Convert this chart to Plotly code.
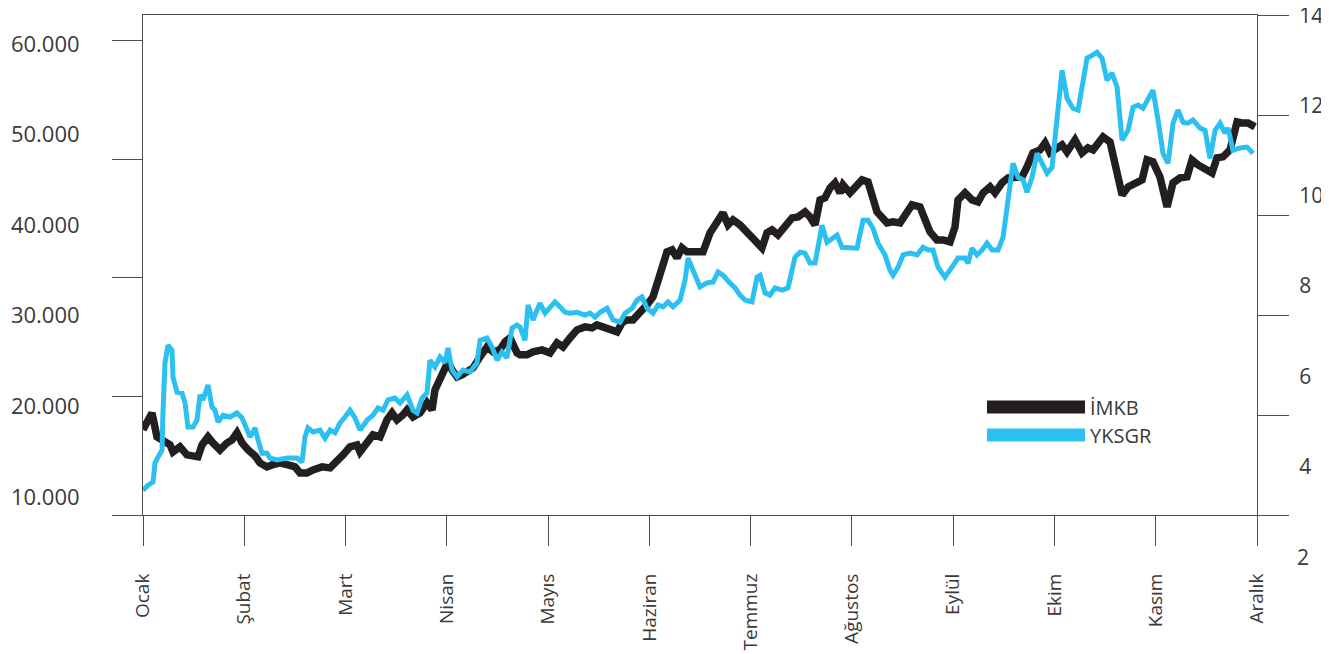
import plotly.graph_objects as go

months = ["Ocak", "Şubat", "Mart", "Nisan", "Mayıs", "Haziran",
          "Temmuz", "Ağustos", "Eylül", "Ekim", "Kasım", "Aralık"]

left_ticks = [10000, 20000, 30000, 40000, 50000, 60000]
left_labels = ["10.000", "20.000", "30.000", "40.000", "50.000", "60.000"]
right_ticks = [4, 6, 8, 10, 12, 14]

# IMKB index (left axis), x in months from start of year
imkb_month = [
    0.000, 0.089, 0.138, 0.197, 0.267, 0.296, 0.365, 0.434, 0.494, 0.543,
    0.583, 0.642, 0.691, 0.760, 0.829, 0.879, 0.928, 0.978, 1.037, 1.106,
    1.155, 1.224, 1.274, 1.353, 1.432, 1.501, 1.550, 1.619, 1.679, 1.768,
    1.847, 1.916, 1.975, 2.044, 2.113, 2.143, 2.212, 2.271, 2.340, 2.409,
    2.459, 2.508, 2.567, 2.607, 2.666, 2.735, 2.804, 2.854, 2.883, 2.933,
    2.982, 3.012, 3.051, 3.101, 3.150, 3.199, 3.259, 3.328, 3.397, 3.456,
    3.525, 3.575, 3.624, 3.693, 3.723, 3.792, 3.851, 3.940, 4.019, 4.088,
    4.147, 4.216, 4.286, 4.365, 4.434, 4.483, 4.542, 4.611, 4.681, 4.730,
    4.779, 4.838, 4.908, 4.977, 5.036, 5.086, 5.135, 5.174, 5.224, 5.273,
    5.322, 5.372, 5.431, 5.500, 5.530, 5.599, 5.668, 5.727, 5.777, 5.826,
    5.895, 5.945, 5.994, 6.043, 6.112, 6.162, 6.211, 6.270, 6.340, 6.409,
    6.468, 6.537, 6.586, 6.636, 6.685, 6.734, 6.784, 6.833, 6.883, 6.912,
    6.981, 7.050, 7.100, 7.159, 7.208, 7.248, 7.347, 7.406, 7.475, 7.524,
    7.593, 7.672, 7.722, 7.771, 7.840, 7.900, 7.969, 8.018, 8.048, 8.117,
    8.186, 8.245, 8.295, 8.364, 8.413, 8.482, 8.542, 8.611, 8.680, 8.729,
    8.788, 8.857, 8.907, 8.956, 9.006, 9.075, 9.124, 9.203, 9.272, 9.331,
    9.381, 9.430, 9.480, 9.549, 9.598, 9.668, 9.727, 9.796, 9.865, 9.914,
    9.973, 10.042, 10.112, 10.171, 10.240, 10.309, 10.358, 10.418, 10.487, 10.556,
    10.605, 10.664, 10.734, 10.803, 10.852, 10.911, 10.980,
]
imkb_value = [
    17400, 19270, 16620, 16290, 15740, 14970, 15520, 14640, 14420, 14420,
    15740, 16620, 15960, 15190, 15960, 16290, 17070, 15960, 15190, 14530,
    13750, 13310, 13530, 13750, 13530, 13310, 12650, 12650, 12980, 13310,
    13200, 13860, 14640, 15520, 15740, 14970, 15960, 16840, 16620, 18500,
    19270, 18500, 19050, 19600, 18830, 19270, 20380, 19600, 21810, 22920,
    24350, 24900, 24020, 23250, 23470, 23800, 24240, 25460, 26560, 26010,
    26230, 27110, 27550, 25900, 25680, 25680, 26010, 26230, 25900, 27000,
    26560, 27550, 28440, 28770, 28660, 28990, 28770, 28660, 28220, 29210,
    29540, 29540, 30310, 31200, 32080, 33960, 35280, 37050, 37270, 36390,
    37490, 37050, 37050, 36940, 37050, 39150, 40360, 41350, 40030, 40580,
    40030, 39480, 38920, 38150, 37490, 39150, 39480, 38920, 40030, 40800,
    40910, 41460, 40910, 40030, 42790, 43010, 44110, 44670, 43560, 44450,
    43560, 44450, 45000, 44780, 42790, 41460, 40250, 40360, 40250, 41130,
    42240, 42020, 40580, 39260, 38370, 38370, 38150, 39810, 42790, 43560,
    42790, 42570, 43560, 44220, 43560, 44670, 45220, 45330, 45330, 46430,
    47980, 48310, 49080, 47980, 48310, 48860, 48090, 49410, 47980, 48530,
    48310, 49080, 49740, 49190, 46430, 43340, 44220, 44670, 45000, 47200,
    46980, 45330, 42020, 44670, 45220, 45330, 47200, 46650, 46100, 45770,
    47430, 47540, 48310, 51400, 51290, 51290, 50850,
]

# YKSGR price (right axis)
yksgr_month = [
    0.000, 0.049, 0.099, 0.118, 0.148, 0.188, 0.197, 0.217, 0.247, 0.286,
    0.296, 0.336, 0.385, 0.415, 0.444, 0.494, 0.533, 0.563, 0.592, 0.642,
    0.681, 0.711, 0.741, 0.790, 0.859, 0.928, 0.978, 1.027, 1.057, 1.086,
    1.106, 1.136, 1.175, 1.224, 1.254, 1.323, 1.422, 1.521, 1.570, 1.600,
    1.629, 1.679, 1.748, 1.797, 1.847, 1.896, 1.945, 1.995, 2.044, 2.093,
    2.143, 2.212, 2.271, 2.321, 2.370, 2.419, 2.488, 2.538, 2.607, 2.666,
    2.706, 2.755, 2.804, 2.834, 2.883, 2.933, 2.982, 3.012, 3.051, 3.101,
    3.160, 3.229, 3.298, 3.328, 3.397, 3.446, 3.496, 3.545, 3.594, 3.644,
    3.693, 3.723, 3.772, 3.802, 3.851, 3.891, 3.920, 3.970, 4.019, 4.068,
    4.118, 4.167, 4.216, 4.286, 4.365, 4.414, 4.463, 4.513, 4.582, 4.641,
    4.710, 4.760, 4.829, 4.878, 4.927, 4.977, 5.036, 5.086, 5.135, 5.184,
    5.234, 5.303, 5.352, 5.382, 5.431, 5.480, 5.500, 5.569, 5.629, 5.678,
    5.727, 5.796, 5.846, 5.895, 5.945, 6.014, 6.063, 6.093, 6.142, 6.191,
    6.241, 6.310, 6.369, 6.438, 6.488, 6.537, 6.586, 6.636, 6.705, 6.754,
    6.804, 6.853, 6.902, 6.952, 6.981, 7.050, 7.110, 7.159, 7.208, 7.258,
    7.327, 7.376, 7.406, 7.456, 7.505, 7.574, 7.643, 7.702, 7.752, 7.801,
    7.850, 7.919, 7.988, 8.048, 8.117, 8.147, 8.186, 8.235, 8.285, 8.334,
    8.384, 8.443, 8.492, 8.542, 8.591, 8.640, 8.690, 8.729, 8.779, 8.828,
    8.877, 8.927, 8.976, 9.026, 9.075, 9.124, 9.183, 9.233, 9.272, 9.282,
    9.322, 9.371, 9.420, 9.470, 9.519, 9.568, 9.618, 9.668, 9.727, 9.776,
    9.825, 9.875, 9.924, 9.973, 10.023, 10.072, 10.122, 10.171, 10.220, 10.270,
    10.319, 10.368, 10.437, 10.487, 10.536, 10.586, 10.635, 10.684, 10.714, 10.763,
    10.832, 10.902, 10.961,
]
yksgr_value = [
    3.48, 3.59, 3.66, 4.08, 4.21, 4.37, 5.19, 6.30, 6.69, 6.58,
    5.99, 5.65, 5.63, 5.41, 4.88, 4.88, 5.03, 5.59, 5.48, 5.81,
    5.32, 5.25, 4.99, 5.14, 5.10, 5.19, 5.08, 4.81, 4.66, 4.77,
    4.86, 4.59, 4.30, 4.30, 4.19, 4.15, 4.19, 4.19, 4.10, 4.66,
    4.86, 4.77, 4.81, 4.63, 4.81, 4.75, 4.97, 5.10, 5.25, 5.08,
    4.81, 5.03, 5.14, 5.30, 5.25, 5.48, 5.52, 5.41, 5.59, 5.25,
    5.19, 5.52, 5.63, 6.36, 6.21, 6.43, 6.30, 6.63, 6.14, 5.99,
    6.14, 6.10, 6.30, 6.80, 6.85, 6.65, 6.36, 6.54, 6.41, 7.07,
    7.14, 7.09, 6.80, 7.58, 7.25, 7.47, 7.62, 7.40, 7.54, 7.65,
    7.54, 7.42, 7.40, 7.42, 7.36, 7.40, 7.31, 7.42, 7.51, 7.25,
    7.20, 7.40, 7.51, 7.69, 7.76, 7.51, 7.40, 7.58, 7.54, 7.65,
    7.54, 7.69, 8.13, 8.62, 8.35, 8.07, 7.98, 8.07, 8.09, 8.31,
    8.24, 8.07, 7.96, 7.80, 7.69, 7.65, 8.20, 8.24, 7.85, 7.80,
    7.96, 7.91, 7.96, 8.64, 8.75, 8.73, 8.51, 8.51, 9.35, 8.97,
    9.06, 9.13, 8.86, 8.86, 8.84, 8.84, 9.46, 9.46, 9.28, 8.95,
    8.69, 8.35, 8.24, 8.42, 8.69, 8.73, 8.69, 8.86, 8.80, 8.80,
    8.42, 8.20, 8.42, 8.62, 8.62, 8.51, 8.84, 8.69, 8.80, 8.95,
    8.80, 8.80, 9.08, 9.97, 10.72, 10.41, 10.35, 10.08, 10.41, 10.94,
    10.72, 10.50, 10.63, 11.83, 12.78, 12.16, 11.94, 11.90, 12.41, 12.60,
    13.05, 13.11, 13.18, 13.05, 12.56, 12.72, 12.41, 11.23, 11.45, 11.96,
    12.01, 11.94, 12.16, 12.34, 11.68, 10.94, 10.72, 11.61, 11.90, 11.63,
    11.61, 11.68, 11.50, 11.45, 10.83, 11.45, 11.61, 11.39, 11.50, 11.01,
    11.06, 11.08, 10.94,
]

FONT = "Open Sans"
TEXT = "#3a3a3a"
AXIS = "#4d4d4d"
BLACK = "#231f20"
BLUE = "#2cc0f0"

fig = go.Figure()
fig.add_trace(go.Scatter(x=imkb_month, y=imkb_value, mode="lines", name="İMKB",
                         line=dict(color=BLACK, width=7.5), yaxis="y"))
fig.add_trace(go.Scatter(x=yksgr_month, y=yksgr_value, mode="lines", name="YKSGR",
                         line=dict(color=BLUE, width=5), yaxis="y2"))
# empty traces so the tick-mark axes get drawn
for ax in ["y3", "y4"]:
    fig.add_trace(go.Scatter(x=[None], y=[None], mode="lines", yaxis=ax,
                             showlegend=False, hoverinfo="skip"))

# the html page adds an 8px body margin, so the figure is 8px smaller
fig.update_layout(
    width=1321, height=646,
    margin=dict(l=135, r=72, t=7, b=139),
    paper_bgcolor="white", plot_bgcolor="white",
    showlegend=False,
    font=dict(family=FONT, color=TEXT),
    xaxis=dict(
        range=[0, 11], tickvals=list(range(12)), ticktext=months,
        tickangle=-90, ticks="outside", ticklen=30, tickcolor=AXIS, tickwidth=1,
        ticklabelstandoff=20, automargin=False,
        showline=True, linecolor=AXIS, linewidth=1, mirror=True,
        showgrid=False, zeroline=False, tickfont=dict(size=19, color=TEXT),
    ),
    yaxis=dict(
        range=[8000, 63200], tickvals=left_ticks, ticktext=left_labels,
        ticks="outside", ticklen=58, tickcolor="rgba(0,0,0,0)", automargin=False,
        showline=True, linecolor=AXIS, linewidth=1,
        showgrid=False, zeroline=False, tickfont=dict(size=22, color=TEXT),
    ),
    yaxis2=dict(
        range=[2.93, 14.005], tickvals=right_ticks, overlaying="y", side="right",
        ticks="outside", ticklen=37, tickcolor="rgba(0,0,0,0)", automargin=False,
        ticklabeloverflow="allow",
        showline=True, linecolor=AXIS, linewidth=1,
        showgrid=False, zeroline=False, tickfont=dict(size=21, color=TEXT),
    ),
    # tick marks (not aligned with the labels in the original layout)
    yaxis3=dict(
        range=[0, 4.219], tickvals=[0, 1, 2, 3, 4], overlaying="y", side="left",
        ticks="outside", ticklen=30, tickcolor=AXIS, showticklabels=False,
        showline=False, showgrid=False, zeroline=False, automargin=False,
    ),
    yaxis4=dict(
        range=[0, 5], tickvals=[0, 1, 2, 3, 4, 5], overlaying="y", side="right",
        ticks="outside", ticklen=31, tickcolor=AXIS, showticklabels=False,
        showline=False, showgrid=False, zeroline=False, automargin=False,
    ),
)

# right-axis label "2" sits below the plotting range
fig.add_annotation(x=1, xref="paper", y=-0.084, yref="paper", text="2",
                   showarrow=False, xanchor="left", yanchor="middle", xshift=38,
                   font=dict(size=21, color=TEXT))

# legend drawn as swatches + labels
legend = [("İMKB", BLACK, 0.216), ("YKSGR", BLUE, 0.160)]
for label, color, yc in legend:
    fig.add_shape(type="rect", xref="paper", yref="paper",
                  x0=0.7576, x1=0.8456, y0=yc - 0.013, y1=yc + 0.013,
                  fillcolor=color, line=dict(width=0))
    fig.add_annotation(x=0.8483, y=yc, xref="paper", yref="paper", text=label,
                       showarrow=False, xanchor="left", yanchor="middle",
                       font=dict(size=20, color=TEXT))

fig.write_html("out.html")
